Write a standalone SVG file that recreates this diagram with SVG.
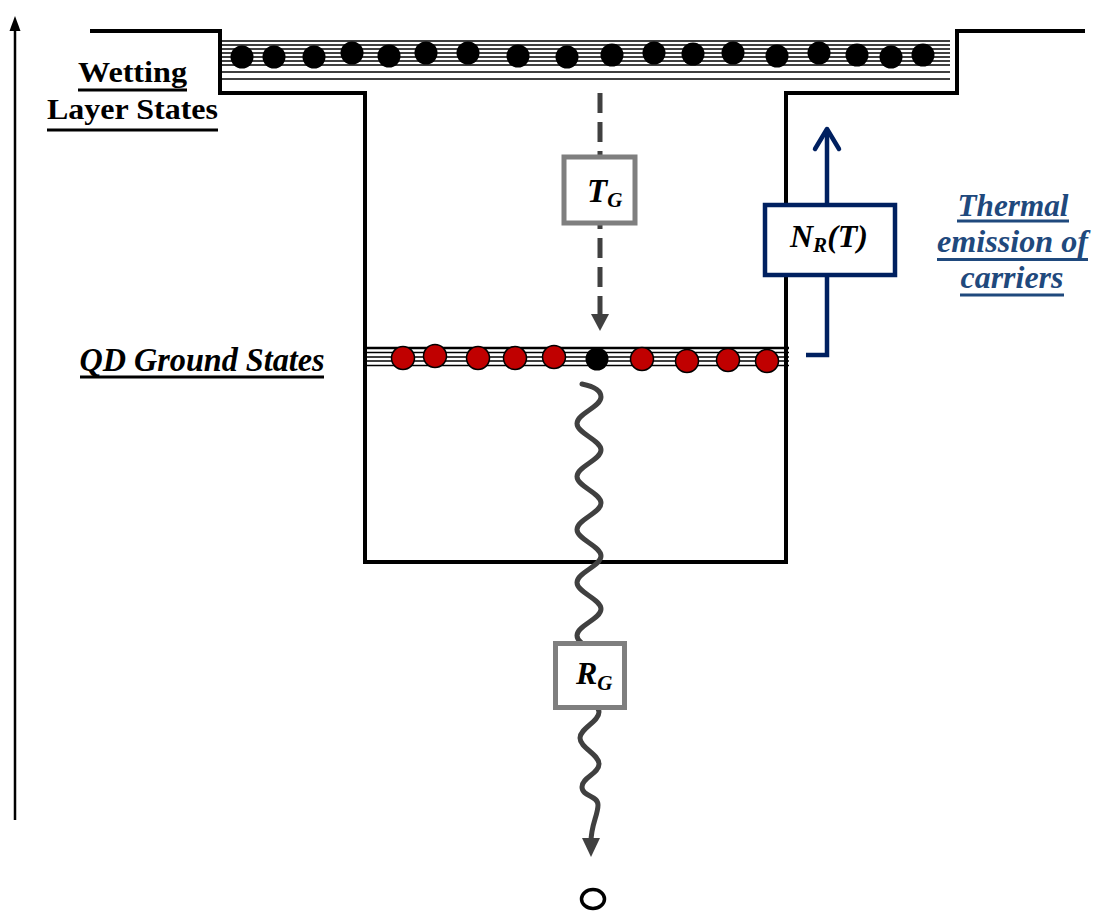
<svg xmlns="http://www.w3.org/2000/svg" width="1104" height="913" viewBox="0 0 1104 913">
<style>
.wall{fill:none;stroke:#000;stroke-width:4;stroke-linejoin:miter}
.lev{stroke:#000;stroke-width:1.5}
.wdot{fill:#000}
.qdot{fill:#C00000;stroke:#000;stroke-width:1.5}
.gbox{fill:#fff;stroke:#7F7F7F;stroke-width:5}
.nbox{fill:#fff;stroke:#002060;stroke-width:4.5}
.lbl{font-family:"Liberation Serif","Times New Roman",serif;font-weight:bold}
.it{font-style:italic}
.uk{stroke:#000;stroke-width:2.8}
.ub{stroke:#1F497D;stroke-width:3}
</style>
<rect width="1104" height="913" fill="#fff"/>

<g id="axis">
<line x1="15" y1="820" x2="15" y2="28" stroke="#000" stroke-width="2.5"/>
<polygon points="15,16 9.5,31 20.5,31" fill="#000"/>
</g>

<g id="well">
<path class="wall" d="M90,31 H220 V93 H365 V562 H786 V93 H957 V31 H1085"/>
</g>

<g id="wetting-layer">
<g class="lev">
<line x1="222" y1="41" x2="950" y2="41"/>
<line x1="222" y1="45" x2="950" y2="45"/>
<line x1="222" y1="49" x2="950" y2="49"/>
<line x1="222" y1="53" x2="950" y2="53"/>
<line x1="222" y1="57" x2="950" y2="57"/>
<line x1="222" y1="61" x2="950" y2="61"/>
<line x1="222" y1="65" x2="950" y2="65"/>
<line x1="222" y1="72" x2="950" y2="72"/>
<line x1="222" y1="79" x2="950" y2="79"/>
</g>
<g class="wdot">
<circle cx="242" cy="57" r="11.5"/>
<circle cx="274" cy="57" r="11.5"/>
<circle cx="314" cy="57" r="11.5"/>
<circle cx="352" cy="53" r="11.5"/>
<circle cx="389" cy="56" r="11.5"/>
<circle cx="426" cy="53" r="11.5"/>
<circle cx="468" cy="53" r="11.5"/>
<circle cx="518" cy="56" r="11.5"/>
<circle cx="567" cy="57" r="11.5"/>
<circle cx="612" cy="55" r="11.5"/>
<circle cx="654" cy="53" r="11.5"/>
<circle cx="693" cy="54" r="11.5"/>
<circle cx="733" cy="53" r="11.5"/>
<circle cx="777" cy="56" r="11.5"/>
<circle cx="819" cy="53" r="11.5"/>
<circle cx="857" cy="55" r="11.5"/>
<circle cx="891" cy="57" r="11.5"/>
<circle cx="923" cy="55" r="11.5"/>
</g>
</g>

<g id="wetting-label">
<text class="lbl" x="132.5" y="82" font-size="30" text-anchor="middle" textLength="109" lengthAdjust="spacingAndGlyphs">Wetting</text>
<text class="lbl" x="132.5" y="119" font-size="30" text-anchor="middle" textLength="171" lengthAdjust="spacingAndGlyphs">Layer States</text>
<line class="uk" x1="78" y1="90" x2="187" y2="90"/>
<line class="uk" x1="47" y1="130" x2="218" y2="130"/>
</g>

<g id="qd-ground-states">
<g class="lev">
<line x1="367" y1="348" x2="789" y2="348" stroke-width="2.5"/>
<line x1="367" y1="352.5" x2="789" y2="352.5"/>
<line x1="367" y1="357" x2="789" y2="357"/>
<line x1="367" y1="361" x2="789" y2="361"/>
<line x1="367" y1="365.5" x2="789" y2="365.5"/>
</g>
<circle class="qdot" cx="403" cy="358" r="11.5"/>
<circle class="qdot" cx="435" cy="356" r="11.5"/>
<circle class="qdot" cx="478" cy="358" r="11.5"/>
<circle class="qdot" cx="515" cy="358" r="11.5"/>
<circle class="qdot" cx="554" cy="357" r="11.5"/>
<circle cx="597" cy="359" r="11.5" fill="#000"/>
<circle class="qdot" cx="642" cy="359" r="11.5"/>
<circle class="qdot" cx="687" cy="361" r="11.5"/>
<circle class="qdot" cx="728" cy="360" r="11.5"/>
<circle class="qdot" cx="767" cy="361" r="11.5"/>
</g>

<g id="qd-label">
<text class="lbl it" x="202" y="371" font-size="33" text-anchor="middle" textLength="245" lengthAdjust="spacingAndGlyphs">QD Ground States</text>
<line class="uk" x1="80" y1="377" x2="324" y2="377"/>
</g>

<g id="connectors">
<line x1="600" y1="93" x2="600" y2="318" stroke="#404040" stroke-width="5" stroke-dasharray="20 9"/>
<polygon points="600,331 591,314 609,314" fill="#404040"/>
<path d="M582,384 C592,386 601,390 601,397 C601,407 577,413.5 577,423.5 S601,440 601,450 S577,466.5 577,476.5 S601,493 601,503 S577,519.5 577,529.5 S601,546 601,556 S577,572.5 577,582.5 S601,599 601,609 S577,625.5 577,635.5 S601,652 601,662 S577,678.5 577,688.5 S599,702 599,712 S580,728 580,738 S599,754 599,764 S582,777 582,787 S598,795 598,805 S591,825 591,842" fill="none" stroke="#404040" stroke-width="5" stroke-linecap="round"/>
<polygon points="591,857 582,838 600,838" fill="#404040"/>
<path d="M806,355 H827 V130" fill="none" stroke="#002060" stroke-width="4.5"/>
<polyline points="815,149 827,129 839,149" fill="none" stroke="#002060" stroke-width="4.5" stroke-linecap="round" stroke-linejoin="round"/>
</g>

<g id="TG">
<rect class="gbox" x="564" y="157" width="71" height="66"/>
<text class="lbl it" x="587" y="202" font-size="33">T<tspan font-size="21" dy="5">G</tspan></text>
</g>

<g id="RG">
<rect class="gbox" x="555.5" y="643.5" width="69" height="64"/>
<text class="lbl it" x="576" y="684" font-size="32">R<tspan font-size="21" dy="6">G</tspan></text>
</g>

<g id="NR">
<rect class="nbox" x="765" y="205" width="130" height="70"/>
<text class="lbl it" x="790" y="247" font-size="32">N<tspan font-size="21" dy="5">R</tspan><tspan dy="-5">(T)</tspan></text>
</g>

<g id="thermal-label" fill="#1F497D">
<text class="lbl it" x="1013" y="216" font-size="31" text-anchor="middle" textLength="111" lengthAdjust="spacingAndGlyphs">Thermal</text>
<text class="lbl it" x="1012.5" y="252" font-size="31" text-anchor="middle" textLength="151" lengthAdjust="spacingAndGlyphs">emission of</text>
<text class="lbl it" x="1012" y="288" font-size="31" text-anchor="middle" textLength="103" lengthAdjust="spacingAndGlyphs">carriers</text>
<line class="ub" x1="957" y1="221" x2="1069" y2="221"/>
<line class="ub" x1="937" y1="259.5" x2="1088" y2="259.5"/>
<line class="ub" x1="960" y1="295" x2="1064" y2="295"/>
</g>

<g id="vacuum-state">
<ellipse cx="593" cy="899" rx="11.5" ry="9.5" fill="none" stroke="#000" stroke-width="3.5"/>
</g>
</svg>
